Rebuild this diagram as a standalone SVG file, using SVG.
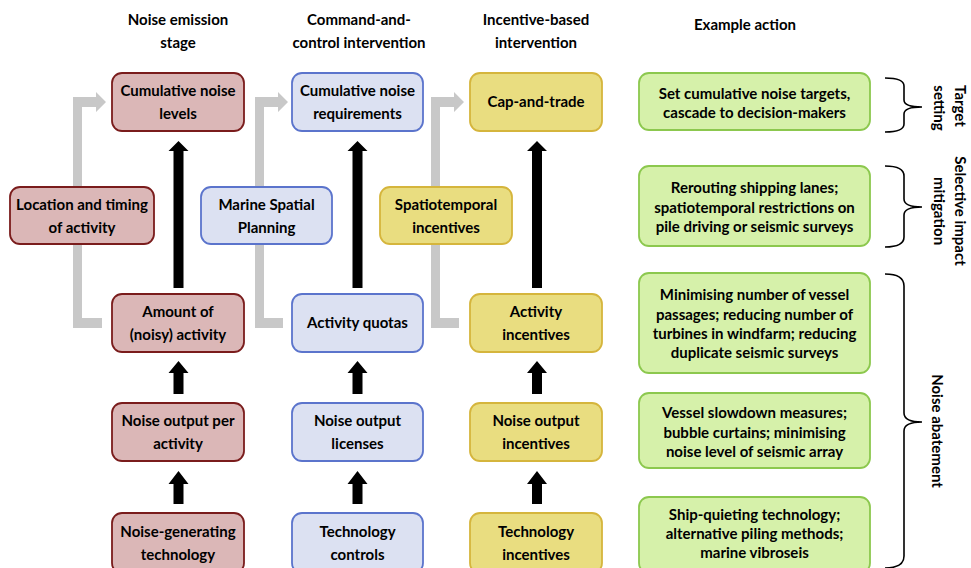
<svg xmlns="http://www.w3.org/2000/svg" width="971" height="568" viewBox="0 0 971 568">
<defs>
<style>
text{font-family:Lato,"Liberation Sans",Arial,sans-serif;font-weight:bold;font-size:15px;fill:#000;text-anchor:middle}
.red{fill:#dbb7b7;stroke:#7a1c1c;stroke-width:1.8}
.blue{fill:#dce1f2;stroke:#5b74cc;stroke-width:1.8}
.yel{fill:#e9dd80;stroke:#d5b53c;stroke-width:1.8}
.grn{fill:#d6f1aa;stroke:#8cc84e;stroke-width:1.8}
.grey{fill:#c8c8c8}
.blk{fill:#000}
.brace{fill:none;stroke:#000;stroke-width:1.6}
</style>
</defs>
<rect width="971" height="568" fill="#fff"/>

<g id="headers">
<text x="178" y="25">Noise emission</text>
<text x="178" y="48">stage</text>
<text x="359" y="25">Command-and-</text>
<text x="359" y="48">control intervention</text>
<text x="536" y="25">Incentive-based</text>
<text x="536" y="48">intervention</text>
<text x="745" y="30">Example action</text>
</g>

<g id="connectors">
<path class="grey" d="M73,97 L96,97 L96,92 L106,102 L96,112 L96,107 L82,107 L82,318 L102,318 L102,328 L73,328 Z"/>
<path class="grey" d="M255,97 L278,97 L278,92 L288,102 L278,112 L278,107 L264,107 L264,318 L283,318 L283,328 L255,328 Z"/>
<path class="grey" d="M431,97 L454,97 L454,92 L464,102 L454,112 L454,107 L440,107 L440,318 L459,318 L459,328 L431,328 Z"/>
<path class="blk" d="M173.5,288 L173.5,151 L168.5,151 L178.5,141 L188.5,151 L183.5,151 L183.5,288 Z"/>
<path class="blk" d="M173.5,394 L173.5,373 L168.5,373 L178.5,361 L188.5,373 L183.5,373 L183.5,394 Z"/>
<path class="blk" d="M173.5,504 L173.5,484 L168.5,484 L178.5,471 L188.5,484 L183.5,484 L183.5,504 Z"/>
<path class="blk" d="M352.5,288 L352.5,151 L347.5,151 L357.5,141 L367.5,151 L362.5,151 L362.5,288 Z"/>
<path class="blk" d="M352.5,394 L352.5,373 L347.5,373 L357.5,361 L367.5,373 L362.5,373 L362.5,394 Z"/>
<path class="blk" d="M352.5,504 L352.5,484 L347.5,484 L357.5,471 L367.5,484 L362.5,484 L362.5,504 Z"/>
<path class="blk" d="M532,288 L532,151 L527,151 L537,141 L547,151 L542,151 L542,288 Z"/>
<path class="blk" d="M532,394 L532,373 L527,373 L537,361 L547,373 L542,373 L542,394 Z"/>
<path class="blk" d="M532,504 L532,484 L527,484 L537,471 L547,484 L542,484 L542,504 Z"/>
</g>

<g id="n-cumulative-levels"><rect class="red" x="112" y="73" width="132" height="58" rx="10"/><text x="178" y="96">Cumulative noise</text><text x="178" y="119">levels</text></g>
<g id="n-location"><rect class="red" x="10" y="187" width="144" height="57" rx="10"/><text x="82" y="210">Location and timing</text><text x="82" y="233">of activity</text></g>
<g id="n-amount"><rect class="red" x="112" y="294" width="132" height="58" rx="10"/><text x="178" y="317">Amount of</text><text x="178" y="340">(noisy) activity</text></g>
<g id="n-output-per"><rect class="red" x="112" y="403" width="132" height="58" rx="10"/><text x="178" y="426">Noise output per</text><text x="178" y="449">activity</text></g>
<g id="n-generating"><rect class="red" x="112" y="513" width="132" height="60" rx="10"/><text x="178" y="537">Noise-generating</text><text x="178" y="560">technology</text></g>

<g id="n-cumulative-req"><rect class="blue" x="292" y="73" width="131" height="58" rx="10"/><text x="357.5" y="96">Cumulative noise</text><text x="357.5" y="119">requirements</text></g>
<g id="n-msp"><rect class="blue" x="201" y="187" width="131" height="57" rx="10"/><text x="266.5" y="210">Marine Spatial</text><text x="266.5" y="233">Planning</text></g>
<g id="n-quotas"><rect class="blue" x="292" y="294" width="131" height="58" rx="10"/><text x="357.5" y="328">Activity quotas</text></g>
<g id="n-licenses"><rect class="blue" x="292" y="403" width="131" height="58" rx="10"/><text x="357.5" y="426">Noise output</text><text x="357.5" y="449">licenses</text></g>
<g id="n-tech-controls"><rect class="blue" x="292" y="513" width="131" height="60" rx="10"/><text x="357.5" y="537">Technology</text><text x="357.5" y="560">controls</text></g>

<g id="n-cap"><rect class="yel" x="470" y="73" width="132" height="58" rx="10"/><text x="536" y="107">Cap-and-trade</text></g>
<g id="n-spatio"><rect class="yel" x="380" y="187" width="132" height="57" rx="10"/><text x="446" y="210">Spatiotemporal</text><text x="446" y="233">incentives</text></g>
<g id="n-act-inc"><rect class="yel" x="470" y="294" width="132" height="58" rx="10"/><text x="536" y="317">Activity</text><text x="536" y="340">incentives</text></g>
<g id="n-out-inc"><rect class="yel" x="470" y="403" width="132" height="58" rx="10"/><text x="536" y="426">Noise output</text><text x="536" y="449">incentives</text></g>
<g id="n-tech-inc"><rect class="yel" x="470" y="513" width="132" height="60" rx="10"/><text x="536" y="537">Technology</text><text x="536" y="560">incentives</text></g>

<g id="e-target"><rect class="grn" x="639" y="73" width="231" height="57" rx="10"/><text x="754.5" y="99">Set cumulative noise targets,</text><text x="754.5" y="118">cascade to decision-makers</text></g>
<g id="e-selective"><rect class="grn" x="639" y="166" width="231" height="80" rx="10"/><text x="754.5" y="193">Rerouting shipping lanes;</text><text x="754.5" y="213">spatiotemporal restrictions on</text><text x="754.5" y="232">pile driving or seismic surveys</text></g>
<g id="e-minimising"><rect class="grn" x="639" y="273" width="231" height="100" rx="10"/><text x="754.5" y="300">Minimising number of vessel</text><text x="754.5" y="320">passages; reducing number of</text><text x="754.5" y="339">turbines in windfarm; reducing</text><text x="754.5" y="358">duplicate seismic surveys</text></g>
<g id="e-slowdown"><rect class="grn" x="639" y="393" width="231" height="75" rx="10"/><text x="754.5" y="418">Vessel slowdown measures;</text><text x="754.5" y="438">bubble curtains; minimising</text><text x="754.5" y="457">noise level of seismic array</text></g>
<g id="e-quieting"><rect class="grn" x="639" y="497" width="231" height="76" rx="10"/><text x="754.5" y="520">Ship-quieting technology;</text><text x="754.5" y="539">alternative piling methods;</text><text x="754.5" y="558">marine vibroseis</text></g>

<g id="braces">
<path class="brace" d="M885,78 Q904,78 904,86 L904,100 Q904,107 922,107 Q904,107 904,114 L904,124 Q904,132 885,132"/>
<path class="brace" d="M885,166 Q904,166 904,176 L904,199 Q904,207 922,207 Q904,207 904,215 L904,237 Q904,247 885,247"/>
<path class="brace" d="M885,274 Q904,274 904,286 L904,413 Q904,422 922,422 Q904,422 904,431 L904,556 Q904,568 885,568"/>
</g>

<g id="categories">
<text transform="translate(955,106) rotate(90)">Target</text>
<text transform="translate(934,108) rotate(90)">setting</text>
<text transform="translate(955,211) rotate(90)">Selective impact</text>
<text transform="translate(934,211) rotate(90)">mitigation</text>
<text transform="translate(932,431) rotate(90)">Noise abatement</text>
</g>
</svg>
